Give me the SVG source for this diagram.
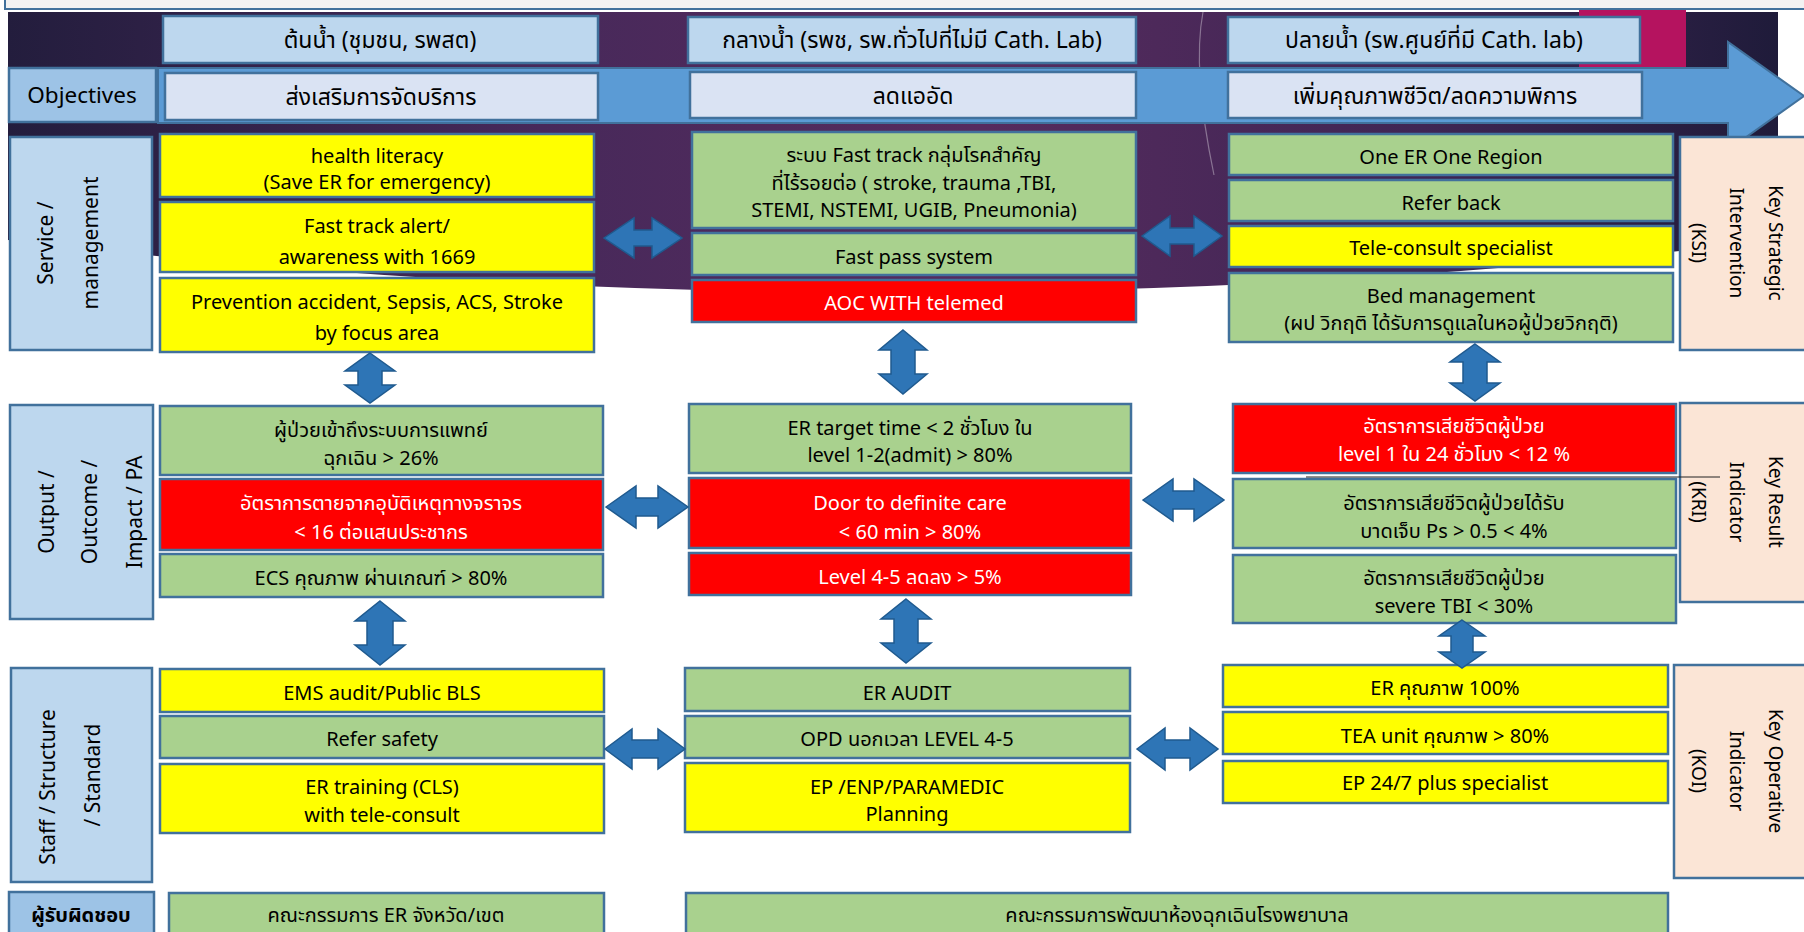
<svg xmlns="http://www.w3.org/2000/svg" width="1804" height="932" viewBox="0 0 1804 932">
<defs>
<linearGradient id="bg" x1="0" y1="0" x2="1" y2="0">
<stop offset="0" stop-color="#231d3d"/>
<stop offset="0.3" stop-color="#47295a"/>
<stop offset="0.55" stop-color="#562b5e"/>
<stop offset="0.8" stop-color="#3f2654"/>
<stop offset="1" stop-color="#1f1b3a"/>
</linearGradient>
</defs>
<style>
.bx{stroke:#41719c;stroke-width:2.5}
.y{fill:#ffff00}.g{fill:#a9d18e}.r{fill:#ff0000}
.lb{fill:#bdd7ee}.ob{fill:#dae3f3}.dk{fill:#9dc3e6}.pk{fill:#fbe5d6}
.ar{fill:#2e75b6;stroke:#1f5a8f;stroke-width:1.5}
text{font-family:"Noto Sans","Noto Sans Thai","Open Sans",sans-serif;text-anchor:middle;fill:#000}
.t{font-size:20px}
.w{fill:#fff}
.h{font-size:23px}
.lab{font-size:21px}
.rl{font-size:19px}
.obj{font-size:22.5px}
.bold{font-weight:bold}
</style>
<rect width="1804" height="932" fill="#ffffff"/>
<!-- background -->
<rect x="5" y="-4" width="1805" height="13" fill="#f2f2f2" stroke="#41719c" stroke-width="2"/>
<path d="M8,12 H1778 V240 Q900,345 8,240 Z" fill="url(#bg)"/>
<rect x="1579" y="10" width="107" height="58" fill="#b5135f"/>
<path d="M1203,12 Q1192,70 1214,175" fill="none" stroke="#ffffff" stroke-opacity="0.35" stroke-width="1.2"/>
<!-- objectives arrow -->
<path d="M158,68 H1728 V42 L1804,96 L1728,150 V123 H158 Z" fill="#5b9bd5" stroke="#41719c" stroke-width="2"/>

<g id="hdr-upstream"><rect class="bx lb" x="163" y="16" width="435" height="47"/><text class="h" x="380" y="48">ต้นน้ำ (ชุมชน, รพสต)</text></g>
<g id="hdr-midstream"><rect class="bx lb" x="688" y="17" width="448" height="46"/><text class="h" x="912" y="48">กลางน้ำ (รพช, รพ.ทั่วไปที่ไม่มี Cath. Lab)</text></g>
<g id="hdr-downstream"><rect class="bx lb" x="1228" y="17" width="412" height="46"/><text class="h" x="1434" y="48">ปลายน้ำ (รพ.ศูนย์ที่มี Cath. lab)</text></g>

<g id="objectives"><rect class="bx dk" x="9" y="68" width="147" height="54"/><text class="obj" x="82" y="103">Objectives</text></g>
<g id="obj1"><rect class="bx ob" x="165" y="73" width="433" height="47"/><text class="h" x="381" y="105">ส่งเสริมการจัดบริการ</text></g>
<g id="obj2"><rect class="bx ob" x="690" y="72" width="446" height="46"/><text class="h" x="913" y="104">ลดแออัด</text></g>
<g id="obj3"><rect class="bx ob" x="1228" y="72" width="414" height="46"/><text class="h" x="1435" y="104">เพิ่มคุณภาพชีวิต/ลดความพิการ</text></g>

<!-- left labels -->
<g id="lbl-service"><rect class="bx lb" x="10" y="137" width="142" height="213"/>
<text class="lab" transform="translate(46,243) rotate(-90)" y="7">Service /</text>
<text class="lab" transform="translate(91,243) rotate(-90)" y="7">management</text></g>
<g id="lbl-output"><rect class="bx lb" x="10" y="405" width="143" height="214"/>
<text class="lab" transform="translate(47,512) rotate(-90)" y="7">Output /</text>
<text class="lab" transform="translate(90,512) rotate(-90)" y="7">Outcome /</text>
<text class="lab" transform="translate(135,512) rotate(-90)" y="7">Impact / PA</text></g>
<g id="lbl-staff"><rect class="bx lb" x="11" y="668" width="141" height="214"/>
<text class="lab" transform="translate(48,787) rotate(-90)" y="7">Staff / Structure</text>
<text class="lab" transform="translate(93,775) rotate(-90)" y="7">/ Standard</text></g>
<g id="lbl-resp"><rect class="bx dk" x="9" y="892" width="145" height="46"/><text class="h bold" x="81" y="922" style="font-size:20px">ผู้รับผิดชอบ</text></g>

<!-- right labels -->
<g id="lbl-ksi"><rect class="bx pk" x="1680" y="137" width="130" height="213"/>
<text class="rl" transform="translate(1776,243) rotate(90)" y="7">Key Strategic</text>
<text class="rl" transform="translate(1737,243) rotate(90)" y="7">Intervention</text>
<text class="rl" transform="translate(1699,243) rotate(90)" y="7">(KSI)</text></g>
<g id="lbl-kri"><rect class="bx pk" x="1680" y="403" width="130" height="199"/>
<text class="rl" transform="translate(1776,502) rotate(90)" y="7">Key Result</text>
<text class="rl" transform="translate(1737,502) rotate(90)" y="7">Indicator</text>
<text class="rl" transform="translate(1699,502) rotate(90)" y="7">(KRI)</text></g>
<g id="lbl-koi"><rect class="bx pk" x="1674" y="665" width="136" height="213"/>
<text class="rl" transform="translate(1776,771) rotate(90)" y="7">Key Operative</text>
<text class="rl" transform="translate(1737,771) rotate(90)" y="7">Indicator</text>
<text class="rl" transform="translate(1699,771) rotate(90)" y="7">(KOI)</text></g>

<!-- service row -->
<g id="s1a"><rect class="bx y" x="160" y="134" width="434" height="63"/><text class="t" x="377" y="163">health literacy</text><text class="t" x="377" y="189">(Save ER for emergency)</text></g>
<g id="s1b"><rect class="bx y" x="160" y="202" width="434" height="70"/><text class="t" x="377" y="233">Fast track alert/</text><text class="t" x="377" y="264">awareness with 1669</text></g>
<g id="s1c"><rect class="bx y" x="160" y="278" width="434" height="74"/><text class="t" x="377" y="309">Prevention accident, Sepsis, ACS, Stroke</text><text class="t" x="377" y="340">by focus area</text></g>

<g id="s2a"><rect class="bx g" x="692" y="132" width="444" height="96"/><text class="t" x="914" y="162">ระบบ Fast track กลุ่มโรคสำคัญ</text><text class="t" x="914" y="190">ที่ไร้รอยต่อ ( stroke, trauma ,TBI,</text><text class="t" x="914" y="217">STEMI, NSTEMI, UGIB, Pneumonia)</text></g>
<g id="s2b"><rect class="bx g" x="692" y="233" width="444" height="42"/><text class="t" x="914" y="264">Fast pass system</text></g>
<g id="s2c"><rect class="bx r" x="692" y="280" width="444" height="42"/><text class="t w" x="914" y="310">AOC WITH telemed</text></g>

<g id="s3a"><rect class="bx g" x="1229" y="134" width="444" height="41"/><text class="t" x="1451" y="164">One ER One Region</text></g>
<g id="s3b"><rect class="bx g" x="1229" y="180" width="444" height="41"/><text class="t" x="1451" y="210">Refer back</text></g>
<g id="s3c"><rect class="bx y" x="1229" y="226" width="444" height="41"/><text class="t" x="1451" y="255">Tele-consult specialist</text></g>
<g id="s3d"><rect class="bx g" x="1229" y="273" width="444" height="69"/><text class="t" x="1451" y="303">Bed management</text><text class="t" x="1451" y="330">(ผป วิกฤติ ได้รับการดูแลในหอผู้ป่วยวิกฤติ)</text></g>

<!-- output row -->
<g id="o1a"><rect class="bx g" x="160" y="406" width="443" height="69"/><text class="t" x="381" y="437">ผู้ป่วยเข้าถึงระบบการแพทย์</text><text class="t" x="381" y="465">ฉุกเฉิน &gt; 26%</text></g>
<g id="o1b"><rect class="bx r" x="160" y="479" width="443" height="71"/><text class="t w" x="381" y="510">อัตราการตายจากอุบัติเหตุทางจราจร</text><text class="t w" x="381" y="539">&lt; 16 ต่อแสนประชากร</text></g>
<g id="o1c"><rect class="bx g" x="160" y="554" width="443" height="43"/><text class="t" x="381" y="585">ECS คุณภาพ ผ่านเกณฑ์ &gt; 80%</text></g>

<g id="o2a"><rect class="bx g" x="689" y="404" width="442" height="69"/><text class="t" x="910" y="435">ER target time &lt; 2 ชั่วโมง ใน</text><text class="t" x="910" y="462">level 1-2(admit) &gt; 80%</text></g>
<g id="o2b"><rect class="bx r" x="689" y="478" width="442" height="70"/><text class="t w" x="910" y="510">Door to definite care</text><text class="t w" x="910" y="539">&lt; 60 min &gt; 80%</text></g>
<g id="o2c"><rect class="bx r" x="689" y="553" width="442" height="42"/><text class="t w" x="910" y="584">Level 4-5 ลดลง &gt; 5%</text></g>

<g id="o3a"><rect class="bx r" x="1233" y="404" width="443" height="69"/><text class="t w" x="1454" y="433">อัตราการเสียชีวิตผู้ป่วย</text><text class="t w" x="1454" y="461">level 1 ใน 24 ชั่วโมง &lt; 12 %</text></g>
<g id="o3b"><rect class="bx g" x="1233" y="479" width="443" height="69"/><text class="t" x="1454" y="510">อัตราการเสียชีวิตผู้ป่วยได้รับ</text><text class="t" x="1454" y="538">บาดเจ็บ Ps &gt; 0.5 &lt; 4%</text></g>
<g id="o3c"><rect class="bx g" x="1233" y="555" width="443" height="68"/><text class="t" x="1454" y="585">อัตราการเสียชีวิตผู้ป่วย</text><text class="t" x="1454" y="613">severe TBI &lt; 30%</text></g>
<line x1="1306" y1="477" x2="1720" y2="477" stroke="#222" stroke-width="1"/>

<!-- staff row -->
<g id="f1a"><rect class="bx y" x="160" y="669" width="444" height="43"/><text class="t" x="382" y="700">EMS audit/Public BLS</text></g>
<g id="f1b"><rect class="bx g" x="160" y="716" width="444" height="42"/><text class="t" x="382" y="746">Refer safety</text></g>
<g id="f1c"><rect class="bx y" x="160" y="764" width="444" height="69"/><text class="t" x="382" y="794">ER training (CLS)</text><text class="t" x="382" y="822">with tele-consult</text></g>

<g id="f2a"><rect class="bx g" x="685" y="668" width="445" height="43"/><text class="t" x="907" y="700">ER AUDIT</text></g>
<g id="f2b"><rect class="bx g" x="685" y="716" width="445" height="42"/><text class="t" x="907" y="746">OPD นอกเวลา LEVEL 4-5</text></g>
<g id="f2c"><rect class="bx y" x="685" y="763" width="445" height="69"/><text class="t" x="907" y="794">EP /ENP/PARAMEDIC</text><text class="t" x="907" y="821">Planning</text></g>

<g id="f3a"><rect class="bx y" x="1223" y="665" width="445" height="42"/><text class="t" x="1445" y="695">ER คุณภาพ 100%</text></g>
<g id="f3b"><rect class="bx y" x="1223" y="712" width="445" height="42"/><text class="t" x="1445" y="743">TEA unit คุณภาพ &gt; 80%</text></g>
<g id="f3c"><rect class="bx y" x="1223" y="761" width="445" height="42"/><text class="t" x="1445" y="790">EP 24/7 plus specialist</text></g>

<!-- responsible row -->
<g id="r1"><rect class="bx g" x="169" y="893" width="435" height="45"/><text class="t" x="386" y="922">คณะกรรมการ ER จังหวัด/เขต</text></g>
<g id="r2"><rect class="bx g" x="686" y="893" width="982" height="45"/><text class="t" x="1177" y="922">คณะกรรมการพัฒนาห้องฉุกเฉินโรงพยาบาล</text></g>

<!-- connectors -->
<g id="connectors">
<path class="ar" d="M604,238 L634,218 L634,230 L652,230 L652,218 L682,238 L652,258 L652,246 L634,246 L634,258 Z"/>
<path class="ar" d="M1142,236 L1170,216 L1170,228 L1194,228 L1194,216 L1222,236 L1194,256 L1194,244 L1170,244 L1170,256 Z"/>
<path class="ar" d="M606,507 L636,486 L636,498 L658,498 L658,486 L688,507 L658,528 L658,516 L636,516 L636,528 Z"/>
<path class="ar" d="M1143,500 L1173,479 L1173,491 L1194,491 L1194,479 L1224,500 L1194,521 L1194,509 L1173,509 L1173,521 Z"/>
<path class="ar" d="M605,749 L632,729 L632,740 L658,740 L658,729 L685,749 L658,769 L658,758 L632,758 L632,769 Z"/>
<path class="ar" d="M1137,749 L1165,728 L1165,740 L1190,740 L1190,728 L1218,749 L1190,770 L1190,758 L1165,758 L1165,770 Z"/>
<path class="ar" d="M370,353 L395,371 L382,371 L382,385 L395,385 L370,403 L345,385 L358,385 L358,371 L345,371 Z"/>
<path class="ar" d="M903,330 L927,350 L915,350 L915,374 L927,374 L903,394 L879,374 L891,374 L891,350 L879,350 Z"/>
<path class="ar" d="M1475,344 L1500,362 L1487,362 L1487,383 L1500,383 L1475,401 L1450,383 L1463,383 L1463,362 L1450,362 Z"/>
<path class="ar" d="M380,601 L405,621 L393,621 L393,645 L405,645 L380,665 L355,645 L367,645 L367,621 L355,621 Z"/>
<path class="ar" d="M906,599 L931,619 L918,619 L918,643 L931,643 L906,663 L881,643 L894,643 L894,619 L881,619 Z"/>
<path class="ar" d="M1462,620 L1485,636 L1473,636 L1473,652 L1485,652 L1462,668 L1439,652 L1451,652 L1451,636 L1439,636 Z"/>
</g>
</svg>
